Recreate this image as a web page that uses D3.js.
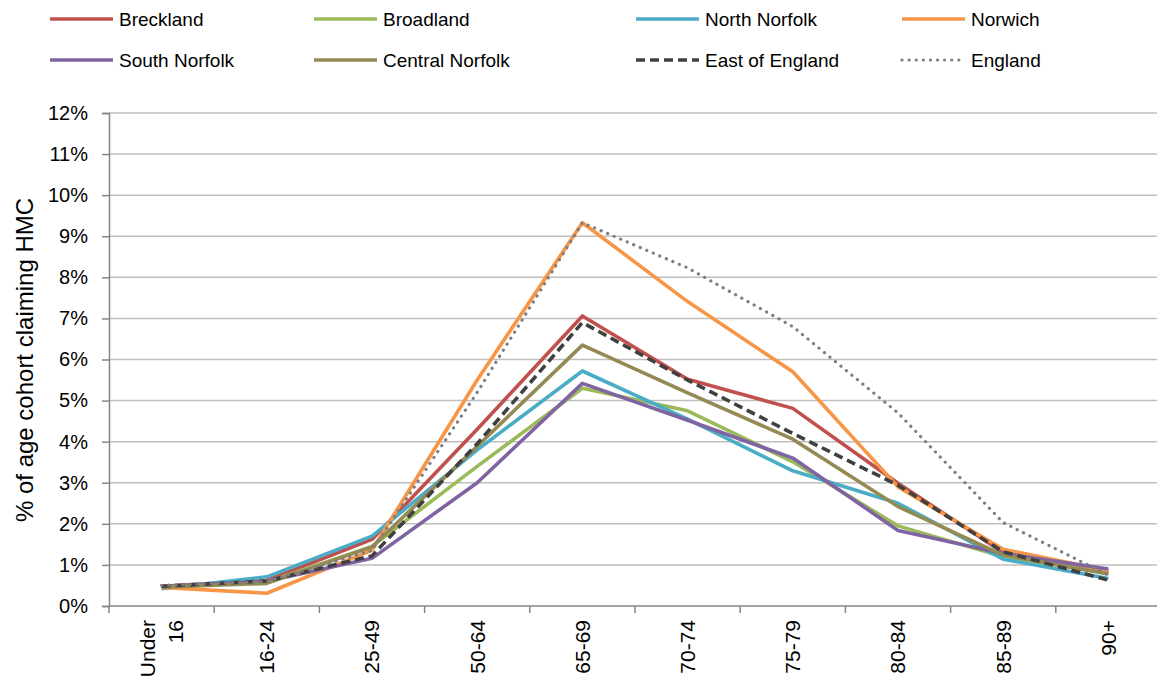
<!DOCTYPE html>
<html>
<head>
<meta charset="utf-8">
<script src="https://cdn.jsdelivr.net/npm/d3@7"></script>
<style>
body{margin:0;background:#fff;}
text{font-family:"Liberation Sans",Arial,sans-serif;fill:#000;}
</style>
</head>
<body>
<svg id="chart" width="1157" height="681"></svg>
<script>
// age bands on the x axis
var categories = ["Under 16","16-24","25-49","50-64","65-69","70-74","75-79","80-84","85-89","90+"];
var yTicks = [0,1,2,3,4,5,6,7,8,9,10,11,12];

// % of age cohort claiming HMC
var breckland      = [0.48,0.62,1.62,4.30,7.06,5.52,4.81,2.99,1.30,0.80];
var broadland      = [0.47,0.58,1.45,3.40,5.30,4.75,3.51,1.95,1.20,0.80];
var northNorfolk   = [0.42,0.71,1.70,3.80,5.72,4.55,3.29,2.50,1.14,0.67];
var norwich        = [0.45,0.31,1.36,5.50,9.33,7.41,5.70,2.90,1.38,0.86];
var southNorfolk   = [0.47,0.60,1.16,3.00,5.42,4.52,3.60,1.84,1.28,0.90];
var centralNorfolk = [0.46,0.55,1.44,3.89,6.35,5.19,4.06,2.42,1.24,0.78];
var eastOfEngland  = [0.48,0.61,1.22,3.95,6.90,5.50,4.20,2.94,1.32,0.63];
var england        = [0.50,0.60,1.35,5.20,9.33,8.23,6.80,4.70,2.03,0.75];

var series = [
  {name:"Breckland", values:breckland, color:"#C0504D"},
  {name:"Broadland", values:broadland, color:"#9BBB59"},
  {name:"North Norfolk", values:northNorfolk, color:"#4BACC6"},
  {name:"Norwich", values:norwich, color:"#F79646"},
  {name:"South Norfolk", values:southNorfolk, color:"#8064A2"},
  {name:"Central Norfolk", values:centralNorfolk, color:"#948A54"},
  {name:"East of England", values:eastOfEngland, color:"#404040", dash:"9,5"},
  {name:"England", values:england, color:"#7F7F7F", dash:"0.1,7", cap:"round", w:3.2}
];

var svg = d3.select("#chart");
var pLeft=109, pRight=1161, pTop=113, pBottom=606;

var x = d3.scaleBand().domain(categories).range([pLeft,pRight]);
var y = d3.scaleLinear().domain([0,12]).range([pBottom,pTop]);

// gridlines
svg.append("g").selectAll("line").data(yTicks.slice(1)).enter().append("line")
  .attr("x1",pLeft).attr("x2",pRight)
  .attr("y1",function(d){return y(d);}).attr("y2",function(d){return y(d);})
  .attr("stroke","#BFBFBF").attr("stroke-width",1.5);

// y axis
var yAxis = svg.append("g").attr("transform","translate("+pLeft+",0)")
  .call(d3.axisLeft(y).tickValues(yTicks).tickSize(7).tickPadding(14).tickFormat(function(d){return d+"%";}));
yAxis.select(".domain").attr("stroke","#868686").attr("stroke-width",1.5);
yAxis.selectAll(".tick line").attr("stroke","#868686").attr("stroke-width",1.5);
yAxis.selectAll("text").attr("font-size","20px").attr("font-family","Liberation Sans, Arial, sans-serif").attr("fill","#000");

// x axis: ticks between categories
svg.append("line").attr("x1",pLeft).attr("x2",pRight).attr("y1",pBottom).attr("y2",pBottom)
  .attr("stroke","#868686").attr("stroke-width",1.5);
var bounds = categories.map(function(c){return x(c);}).concat([pRight]);
svg.append("g").selectAll("line").data(bounds).enter().append("line")
  .attr("x1",function(d){return d;}).attr("x2",function(d){return d;})
  .attr("y1",pBottom).attr("y2",pBottom+7)
  .attr("stroke","#868686").attr("stroke-width",1.5);

var xl = svg.append("g").selectAll("text").data(categories).enter().append("text")
  .attr("transform",function(d){return "translate("+(x(d)+x.bandwidth()/2)+","+(pBottom+14)+") rotate(-90)";})
  .attr("text-anchor","end").attr("font-size","21px");
xl.each(function(d){
  var parts = d.split(" ");
  var t = d3.select(this);
  if(parts.length==1){
    t.append("tspan").attr("x",0).attr("dy","0.35em").text(d);
  } else {
    t.append("tspan").attr("x",0).attr("dy","-0.3em").text(parts[0]);
    t.append("tspan").attr("x",0).attr("dy","1.3em").text(parts[1]);
  }
});

// y title
svg.append("text").attr("transform","translate(33,360) rotate(-90)")
  .attr("text-anchor","middle").attr("font-size","24px").text("% of age cohort claiming HMC");

// lines
var line = d3.line().x(function(d,i){return x(categories[i])+x.bandwidth()/2;}).y(function(d){return y(d);});
series.forEach(function(s){
  svg.append("path").datum(s.values).attr("d",line)
    .attr("fill","none").attr("stroke",s.color).attr("stroke-width",s.w||3.6)
    .attr("stroke-linejoin","round").attr("stroke-linecap",s.cap||"butt")
    .attr("stroke-dasharray",s.dash||null);
});

// legend
var legX = [50,314,636,902], legY = [19,60];
series.forEach(function(s,i){
  var gx = legX[i%4], gy = legY[Math.floor(i/4)];
  var g = svg.append("g").attr("transform","translate("+gx+","+gy+")");
  g.append("line").attr("x1",0).attr("x2",63).attr("y1",0).attr("y2",0)
    .attr("stroke",s.color).attr("stroke-width",s.w||3.6)
    .attr("stroke-linecap",s.cap||"butt").attr("stroke-dasharray",s.dash||null);
  g.append("text").attr("x",69).attr("y",0).attr("dy","0.35em").attr("font-size","19px").text(s.name);
});
</script>
</body>
</html>
